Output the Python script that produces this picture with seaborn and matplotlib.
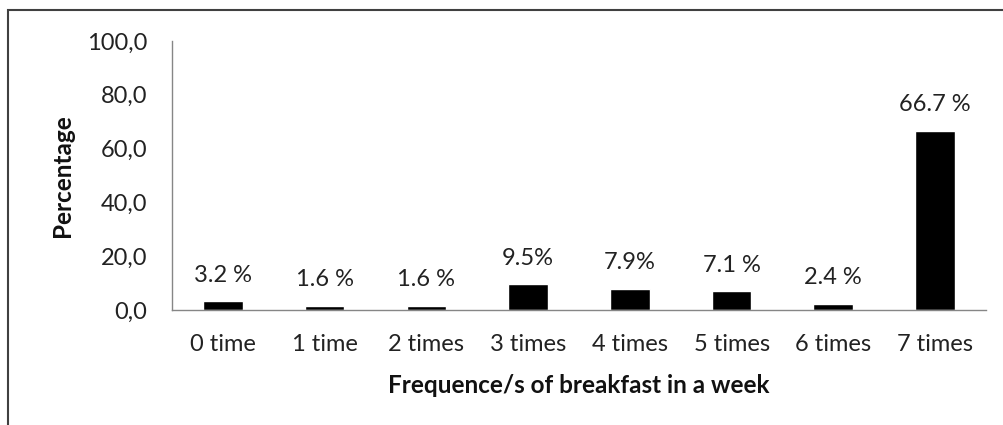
import numpy as np
import pandas as pd
import matplotlib
matplotlib.use("Agg")
import matplotlib.pyplot as plt
import seaborn as sns
from matplotlib.patches import Rectangle

# data
categories = ['0 time', '1 time', '2 times', '3 times', '4 times', '5 times', '6 times', '7 times']
percent = [3.2, 1.6, 1.6, 9.5, 7.9, 7.1, 2.4, 66.7]
bar_labels = ['3.2 %', '1.6 %', '1.6 %', '9.5%', '7.9%', '7.1 %', '2.4 %', '66.7 %']
y_ticks = [0, 20, 40, 60, 80, 100]

sns.set_style('white')
plt.rcParams['font.family'] = ['Lato', 'DejaVu Sans']

df = pd.DataFrame({'freq': categories, 'pct': percent})

fig = plt.figure(figsize=(10.04, 4.25), dpi=100)
ax = fig.add_axes([0.1713, 0.2706, 0.8107, 0.6329])

sns.barplot(data=df, x='freq', y='pct', color='black', width=0.39,
            saturation=1, ax=ax)

for i, (v, lab) in enumerate(zip(percent, bar_labels)):
    ax.annotate(lab, (i, v), xytext=(0, 11), textcoords='offset points',
                ha='center', va='bottom', fontsize=17, color='#222222')

ax.set_ylim(0, 100)
ax.set_xlim(-0.5, len(categories) - 0.5)
ax.set_yticks(y_ticks)
ax.set_yticklabels([f'{t:.1f}'.replace('.', ',') for t in y_ticks])

# ticks between categories, like the original
ax.set_xticks(np.arange(-0.5, len(categories), 1.0))
ax.set_xticklabels([])
ax.set_xticks(np.arange(len(categories)), minor=True)
ax.set_xticklabels(categories, minor=True)
ax.tick_params(axis='x', which='major', direction='out', length=6, width=1, color='#868686')
ax.tick_params(axis='x', which='minor', length=0, pad=17, labelsize=17, labelcolor='#222222')
ax.tick_params(axis='y', direction='out', length=6, width=1, color='#868686',
               labelsize=17, labelcolor='#222222', pad=12)

for s in ['top', 'right']:
    ax.spines[s].set_visible(False)
for s in ['left', 'bottom']:
    ax.spines[s].set_color('#868686')
    ax.spines[s].set_linewidth(1)

ax.set_xlabel('Frequence/s of breakfast in a week', fontsize=17.5, fontweight='bold',
              color='#111111', labelpad=14)
ax.set_ylabel('Percentage', fontsize=17.5, fontweight='bold', color='#111111', labelpad=9)

# outer chart border
fig.patches.append(Rectangle((8 / 1004, -0.1), 1.2, 1 - 10 / 425 + 0.1,
                             transform=fig.transFigure, fill=False,
                             edgecolor='#404040', linewidth=1.5))

fig.savefig('out.png', dpi=100)
